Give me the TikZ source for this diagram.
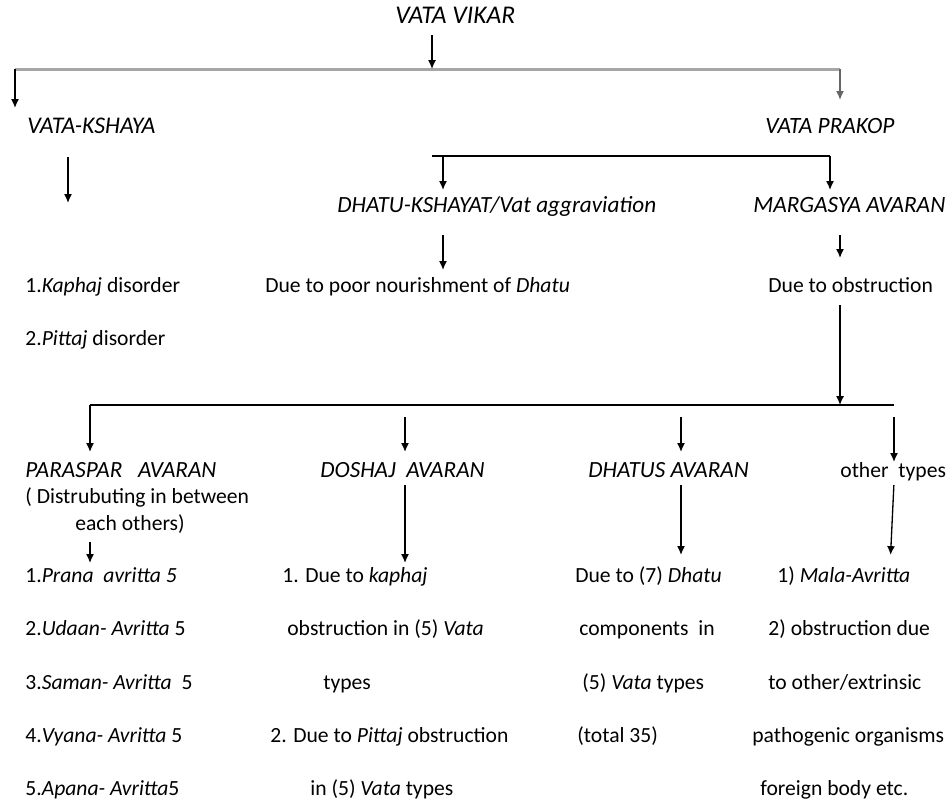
\documentclass[tikz,border=0pt]{standalone}
\usepackage{fontspec}
\setmainfont{Carlito}
\usetikzlibrary{arrows.meta}

\newdimen\pxu \pxu=0.02cm

\begin{document}
\begin{tikzpicture}[x=0.02cm, y=-0.02cm,
	every node/.style={anchor=west, inner sep=0pt, text height=8.6pt, text depth=2.5pt, font=\fontsize{12.3}{14}\selectfont},
	head/.style={font=\fontsize{13.2}{15}\selectfont\itshape},
	arr/.style={-{Latex[length=5pt,width=4.5pt]}, line width=0.75pt},
	bar/.style={line width=0.75pt},
	gbar/.style={line width=1.7pt, black!35}]
	\useasboundingbox (0,0) rectangle (952,802);

	% upper levels
	\node[head, font=\fontsize{14.5}{16}\selectfont\itshape] (vikar) at (395,18) {VATA VIKAR};
	\node[head, font=\fontsize{13.6}{15}\selectfont\itshape] (kshaya) at (27,128) {VATA-KSHAYA};
	\node[head, font=\fontsize{13.3}{15}\selectfont\itshape] (prakop) at (765,128) {VATA PRAKOP};
	\node[head] (dhatuk) at (337,207) {DHATU-KSHAYAT/Vat aggraviation};
	\node[head, font=\fontsize{13.3}{15}\selectfont\itshape] (margasya) at (753,207) {MARGASYA AVARAN};
	\node (kaphd) at (25,287) {1.\textit{Kaphaj} disorder};
	\node (pittd) at (25,340) {2.\textit{Pittaj} disorder};
	\node (poor) at (265,287) {Due to poor nourishment of \textit{Dhatu}};
	\node (obstr) at (768,287) {Due to obstruction};

	% avaran types
	\node[head] (paraspar) at (25,472) {PARASPAR\ \ \ AVARAN};
	\node (distr) at (25,498) {( Distrubuting in between};
	\node (each) at (75,525) {each others)};
	\node[head] (doshaj) at (320,472) {DOSHAJ\ \ AVARAN};
	\node[head] (dhatus) at (588,472) {DHATUS AVARAN};
	\node (other) at (840,472) {other\ \ types};

	\node (prana) at (25,577) {1.\textit{Prana\ \ avritta 5}};
	\node (udaan) at (25,630) {2.\textit{Udaan- Avritta} 5};
	\node (saman) at (25,684) {3.\textit{Saman- Avritta}\ \ 5};
	\node (vyana) at (25,737) {4.\textit{Vyana- Avritta} 5};
	\node (apana) at (25,790) {5.\textit{Apana- Avritta}5};

	\node (dos1) at (282,577) {1. Due to \textit{kaphaj}};
	\node (dos2) at (287,630) {obstruction in (5) \textit{Vata}};
	\node (dos3) at (323,684) {types};
	\node (dos4) at (270,737) {2. Due to \textit{Pittaj} obstruction};
	\node (dos5) at (310,790) {in (5) \textit{Vata} types};

	\node (dha1) at (575,577) {Due to (7) \textit{Dhatu}};
	\node (dha2) at (579,630) {components\ \ in};
	\node (dha3) at (582,684) {(5) \textit{Vata} types};
	\node (dha4) at (577,737) {(total 35)};

	\node (oth1) at (777,577) {1) \textit{Mala-Avritta}};
	\node (oth2) at (768,630) {2) obstruction due};
	\node (oth3) at (768,684) {to other/extrinsic};
	\node (oth4) at (752,737) {pathogenic organisms};
	\node (oth5) at (760,790) {foreign body etc.};

	% bars
	\coordinate (j1) at (432,69);
	\draw[gbar] (15,69) coordinate (b1l) -- (840,69) coordinate (b1r);
	\coordinate (j2) at (443,156);
	\draw[bar] (432,156) coordinate (b2l) -- (830,156) coordinate (b2r);
	\coordinate (j3in) at (840,405);
	\coordinate (j3b) at (405,405);
	\coordinate (j3c) at (681,405);
	\draw[bar] (90,405) coordinate (j3a) -- (894,405) coordinate (j3d);

	% arrows
	\draw[arr, shorten <=7\pxu] (j1 |- vikar.south) -- (j1);
	\draw[arr, shorten >=10\pxu] (b1l) -- (b1l |- kshaya.north);
	\draw[arr, black!60, shorten >=18\pxu] (b1r) -- (b1r |- prakop.north);
	\draw[arr, shorten <=19\pxu, shorten >=74\pxu] (68,0 |- kshaya.south) -- (68,0 |- kaphd.north);
	\draw[arr, shorten >=7\pxu] (j2) -- (j2 |- dhatuk.north);
	\draw[arr, shorten >=7\pxu] (b2r) -- (b2r |- margasya.north);
	\draw[arr, shorten <=18\pxu, shorten >=7\pxu] (j2 |- dhatuk.south) -- (j2 |- poor.north);
	\draw[arr, shorten <=18\pxu, shorten >=19\pxu] (b1r |- margasya.south) -- (b1r |- obstr.north);
	\draw[arr, shorten <=8\pxu] (j3in |- obstr.south) -- (j3in);

	\draw[arr, shorten >=10\pxu] (j3a) -- (j3a |- paraspar.north);
	\draw[arr, shorten <=12\pxu, shorten >=10\pxu] (j3b) -- (j3b |- doshaj.north);
	\draw[arr, shorten <=12\pxu, shorten >=10\pxu] (j3c) -- (j3c |- dhatus.north);
	\draw[arr, shorten <=12\pxu] (j3d) -- (j3d |- other.north);

	\draw[arr, shorten <=7\pxu, shorten >=4\pxu] (j3a |- each.south) -- (j3a |- prana.north);
	\draw[arr, shorten <=3\pxu, shorten >=4\pxu] (j3b |- doshaj.south) -- (j3b |- dos1.north);
	\draw[arr, shorten <=3\pxu, shorten >=12\pxu] (j3c |- dhatus.south) -- (j3c |- dha1.north);
	\draw[arr, shorten <=3\pxu, shorten >=12\pxu] (j3d |- other.south) -- (890,0 |- oth1.north);
\end{tikzpicture}
\end{document}
